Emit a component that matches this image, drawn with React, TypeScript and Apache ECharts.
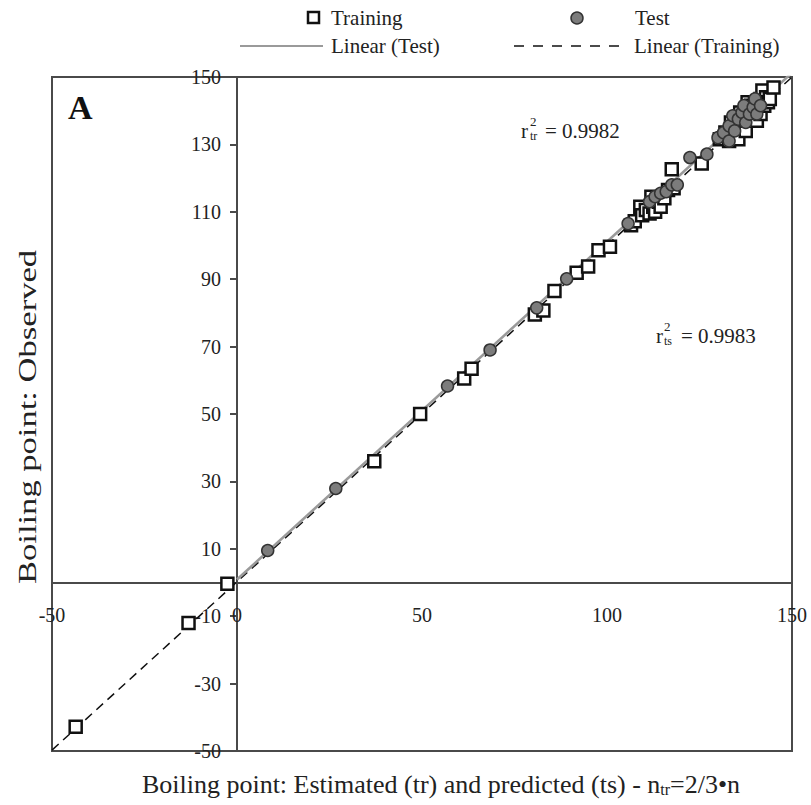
import React, { useEffect, useRef } from "react";
import * as echarts from "echarts";

// Estimated (tr) vs observed boiling points, training set
const trainingPoints: [number, number][] = [
  [-43.6, -42.8], [-13.1, -12.0], [-2.6, -0.4], [37.1, 36.0], [49.5, 50.0],
  [61.4, 60.5], [63.4, 63.4], [80.5, 79.5], [82.8, 80.7], [85.8, 86.5],
  [91.8, 91.9], [94.9, 93.8], [97.7, 98.6], [100.8, 99.6],
  [106.5, 106.0], [107.5, 107.2], [109.0, 111.5], [109.5, 109.0], [110.5, 110.5],
  [111.5, 109.5], [112.0, 114.5], [112.5, 111.5], [113.0, 110.0], [114.0, 113.0],
  [114.5, 111.5], [115.5, 114.0], [116.5, 116.5], [117.5, 122.6], [118.0, 117.0],
  [125.6, 124.3],
  [130.5, 131.5], [132.0, 133.5], [133.0, 131.0], [133.5, 136.5], [134.0, 134.5],
  [135.0, 133.0], [135.5, 131.5], [135.5, 136.5], [136.0, 139.5], [136.5, 135.0],
  [137.0, 138.5], [137.5, 134.0], [138.0, 137.0], [138.0, 142.5], [138.5, 140.5],
  [139.0, 141.5], [139.5, 138.5], [140.0, 142.0], [140.5, 137.0], [141.0, 140.5],
  [141.5, 143.5], [141.5, 139.0], [142.0, 146.0], [142.5, 141.5], [143.0, 144.0],
  [143.5, 142.5], [144.0, 143.5], [145.0, 146.9],
];

// Predicted (ts) vs observed boiling points, test set
const testPoints: [number, number][] = [
  [8.3, 9.5], [26.7, 27.9], [56.9, 58.3], [68.4, 69.0], [81.0, 81.5], [89.1, 90.1],
  [105.7, 106.5], [111.5, 113.0], [113.0, 114.5], [114.5, 115.5], [116.0, 116.0],
  [117.5, 118.0], [119.0, 118.0], [122.4, 126.1], [127.0, 127.1], [130.0, 132.0],
  [131.5, 133.5], [133.0, 131.0], [133.0, 135.5], [134.0, 138.5], [134.5, 134.0],
  [135.5, 137.5], [136.5, 139.5], [137.0, 141.5], [137.5, 136.5], [138.5, 139.0],
  [139.5, 141.0], [140.0, 143.5], [140.5, 139.0], [141.5, 141.5],
];

const axisRange = { min: -50, max: 150 };
const xInterval = 50;
const yTickValues = [-50, -30, -10, 10, 30, 50, 70, 90, 110, 130, 150];
const trainingFitRange: [number, number] = [-50, 150];
const testFitRange: [number, number] = [0, 150];
const r2Training = "0.9982";
const r2Test = "0.9983";
const legendNames = ["Training", "Test", "Linear (Test)", "Linear (Training)"];
const panelLabel = "A";
const yTitle = "Boiling point: Observed";
const xTitleMain = "Boiling point: Estimated (tr) and predicted (ts) - n";
const xTitleSub = "tr";
const xTitleTail = "=2/3•n";

const SERIF = "'Liberation Serif', 'Times New Roman', serif";

// plot frame in pixels
const GRID = { left: 52, right: 19, top: 77, bottom: 54 };
const CHART_W = 811;
const CHART_H = 805;

// least-squares trend line evaluated at the ends of a range
function trendLine(pts: [number, number][], range: [number, number]): [number, number][] {
  const n = pts.length;
  let sx = 0, sy = 0, sxx = 0, sxy = 0;
  for (const [x, y] of pts) {
    sx += x; sy += y; sxx += x * x; sxy += x * y;
  }
  const slope = (n * sxy - sx * sy) / (n * sxx - sx * sx);
  const intercept = (sy - slope * sx) / n;
  return range.map((x) => [x, intercept + slope * x] as [number, number]);
}

export default function App() {
  const ref = useRef<HTMLDivElement>(null);

  useEffect(() => {
    if (!ref.current) return;
    const chart = echarts.init(ref.current, null, { renderer: "svg" });

    const axisColor = "#4a4a4a";
    const textColor = "#222";

    // shift both axes (line, ticks and labels) onto the zero crossing
    const plotW = CHART_W - GRID.left - GRID.right;
    const plotH = CHART_H - GRID.top - GRID.bottom;
    const span = axisRange.max - axisRange.min;
    const yAxisShift = -plotW * (0 - axisRange.min) / span;
    const xAxisShift = -plotH * (0 - axisRange.min) / span;

    chart.setOption({
      animation: false,
      backgroundColor: "#fff",
      grid: {
        ...GRID,
        show: true, borderColor: axisColor, borderWidth: 2, backgroundColor: "transparent",
      },
      xAxis: {
        type: "value",
        min: axisRange.min, max: axisRange.max, interval: xInterval,
        offset: xAxisShift,
        axisLine: { onZero: false, lineStyle: { color: axisColor, width: 2 } },
        axisTick: { show: false },
        splitLine: { show: false },
        axisLabel: { margin: 22, fontFamily: SERIF, fontSize: 20, color: textColor },
      },
      yAxis: {
        type: "value",
        min: axisRange.min, max: axisRange.max,
        offset: yAxisShift,
        axisLine: { onZero: false, lineStyle: { color: axisColor, width: 2 } },
        axisTick: { show: true, length: 7, customValues: yTickValues, lineStyle: { color: axisColor, width: 2 } },
        splitLine: { show: false },
        axisLabel: { margin: 16, fontFamily: SERIF, fontSize: 20, color: textColor, customValues: yTickValues },
      },
      series: [
        {
          name: legendNames[3], type: "line", data: trendLine(trainingPoints, trainingFitRange),
          symbol: "none", clip: true, z: 1,
          lineStyle: { color: "#111", width: 1.5, type: [9, 6] },
        },
        {
          name: legendNames[2], type: "line", data: trendLine(testPoints, testFitRange),
          symbol: "none", clip: true, z: 2,
          lineStyle: { color: "#9a9a9a", width: 2.6 },
        },
        {
          name: legendNames[0], type: "scatter", data: trainingPoints, z: 3,
          symbol: "rect", symbolSize: 12,
          itemStyle: { color: "#fff", borderColor: "#111", borderWidth: 2.5, opacity: 1 },
        },
        {
          name: legendNames[1], type: "scatter", data: testPoints, z: 4,
          symbol: "circle", symbolSize: 12,
          itemStyle: { color: "#7c7c7c", borderColor: "#333", borderWidth: 1.5, opacity: 1 },
        },
      ],
      graphic: [
        // legend, first row
        { type: "rect", shape: { x: 308, y: 12, width: 11, height: 11 },
          style: { fill: "#fff", stroke: "#111", lineWidth: 2.5 } },
        { type: "text", x: 331, y: 18,
          style: { text: legendNames[0], font: `21px ${SERIF}`, fill: textColor, verticalAlign: "middle" } },
        { type: "circle", shape: { cx: 577, cy: 18, r: 6 },
          style: { fill: "#7c7c7c", stroke: "#333", lineWidth: 1.5 } },
        { type: "text", x: 635, y: 18,
          style: { text: legendNames[1], font: `21px ${SERIF}`, fill: textColor, verticalAlign: "middle" } },
        // legend, second row
        { type: "line", shape: { x1: 240, y1: 46, x2: 323, y2: 46 },
          style: { stroke: "#9a9a9a", lineWidth: 2 } },
        { type: "text", x: 331, y: 46,
          style: { text: legendNames[2], font: `21px ${SERIF}`, fill: textColor, verticalAlign: "middle" } },
        { type: "line", shape: { x1: 514, y1: 46, x2: 623, y2: 46 },
          style: { stroke: "#111", lineWidth: 1.6, lineDash: [10, 9] } },
        { type: "text", x: 634, y: 46,
          style: { text: legendNames[3], font: `21px ${SERIF}`, fill: textColor, verticalAlign: "middle" } },
        // panel letter
        { type: "text", x: 68, y: 90,
          style: { text: panelLabel, font: `bold 34px ${SERIF}`, fill: "#111" } },
        // r² of training set
        { type: "text", x: 521, y: 131,
          style: { text: "r", font: `21px ${SERIF}`, fill: textColor, verticalAlign: "middle" } },
        { type: "text", x: 530, y: 121,
          style: { text: "2", font: `13px ${SERIF}`, fill: textColor, verticalAlign: "middle" } },
        { type: "text", x: 530, y: 136,
          style: { text: "tr", font: `12px ${SERIF}`, fill: textColor, verticalAlign: "middle" } },
        { type: "text", x: 545, y: 131,
          style: { text: "= " + r2Training, font: `21px ${SERIF}`, fill: textColor, verticalAlign: "middle" } },
        // r² of test set
        { type: "text", x: 656, y: 336,
          style: { text: "r", font: `21px ${SERIF}`, fill: textColor, verticalAlign: "middle" } },
        { type: "text", x: 664, y: 326,
          style: { text: "2", font: `13px ${SERIF}`, fill: textColor, verticalAlign: "middle" } },
        { type: "text", x: 664, y: 341,
          style: { text: "ts", font: `12px ${SERIF}`, fill: textColor, verticalAlign: "middle" } },
        { type: "text", x: 681, y: 336,
          style: { text: "= " + r2Test, font: `21px ${SERIF}`, fill: textColor, verticalAlign: "middle" } },
        // axis titles
        { type: "text", x: 28, y: 417, rotation: Math.PI / 2, scaleX: 1.33,
          style: { text: yTitle, font: `26px ${SERIF}`, fill: textColor, align: "center", verticalAlign: "middle" } },
        { type: "text", x: 441, y: 784,
          style: {
            text: `${xTitleMain}{sub|${xTitleSub}}${xTitleTail}`,
            font: `26px ${SERIF}`, fill: textColor, align: "center", verticalAlign: "middle",
            rich: { sub: { font: `16px ${SERIF}`, fill: textColor, padding: [11, 0, 0, 0] } },
          } },
      ],
    });

    return () => chart.dispose();
  }, []);

  return (
    <div
      ref={ref}
      style={{ position: "fixed", left: 0, top: 0, width: CHART_W, height: CHART_H, background: "#fff" }}
    />
  );
}
